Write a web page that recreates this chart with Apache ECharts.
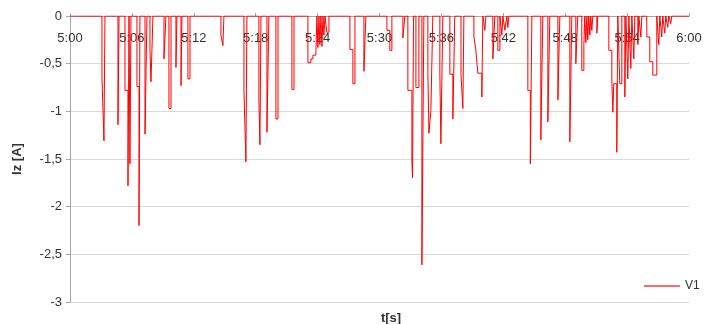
<!DOCTYPE html>
<html>
<head>
<meta charset="utf-8">
<script src="https://cdn.jsdelivr.net/npm/echarts@6/dist/echarts.min.js"></script>
<style>
  html, body { margin: 0; padding: 0; background: #fff; }
  #chart { width: 705px; height: 324px; }
</style>
</head>
<body>
<div id="chart"></div>
<script>
// Sample times in seconds (each entry marks where the current changes level)
const times = [
  300, 303.10, 303.29, 303.39, 304.65, 304.75, 305.33, 305.62, 305.72, 305.81, 305.91,
  306.49, 306.69, 306.78, 307.27, 307.46, 307.75, 307.85, 308.04, 309.11, 309.30,
  309.59, 309.79, 310.27, 310.37, 310.76, 310.85, 311.43, 311.63, 314.63, 314.82, 314.92,
  316.86, 317.05, 317.15, 318.31, 318.41, 318.51, 319.09, 319.28, 319.96, 320.16,
  321.51, 321.71, 323.06, 323.35, 323.55, 323.84, 323.93, 324.03, 324.13, 324.22, 324.32,
  324.42, 324.52, 324.61, 324.71, 324.90, 325.10, 327.13, 327.42, 327.62, 328.49, 328.68,
  330.72, 331.00, 331.20, 332.27, 332.46, 332.75, 333.14, 333.20, 333.30,
  333.53, 333.82, 334.11, 334.30, 334.69, 334.79, 334.98, 335.17, 335.85, 335.95, 336.14,
  336.82, 337.11, 337.30, 337.90, 338.08, 338.18, 339.15, 339.34, 339.53, 339.92, 340.02,
  340.21, 340.31, 340.99, 341.18, 341.47, 341.67, 341.86, 341.96, 342.15, 342.34, 342.44, 342.54,
  344.38, 344.62, 344.77, 345.64, 345.83, 346.32, 346.51, 347.29, 347.48, 348.45, 348.64,
  349.03, 349.22, 349.61, 349.81, 349.90, 350.00, 350.10, 350.19, 350.29, 350.39, 350.48,
  350.58, 350.68, 351.07, 351.16, 352.23, 352.52, 352.62, 352.71, 353.00, 353.10,
  353.29, 353.49, 353.78, 353.88, 354.07, 354.17, 354.36, 354.46, 354.65, 354.75,
  355.04, 355.14, 355.33, 355.43, 355.91, 356.20, 356.49, 356.88,
  357.07, 357.17, 357.36, 357.46, 357.65, 357.75, 357.94, 358.04, 358.23, 358.33, 360
];

// Current Iz [A] from each sample time onwards
const current = [
  0, -0.65, -1.31, 0, -1.14, 0, -0.78, -1.78, 0, -1.55, 0,
  -0.74, -2.2, 0, -1.24, 0, -0.35, -0.69, 0, -0.45, 0,
  -0.97, 0, -0.54, 0, -0.73, 0, -0.66, 0, -0.2, -0.31, 0,
  -0.78, -1.53, 0, -0.87, -1.35, 0, -1.22, 0, -1.08, 0,
  -0.77, 0, -0.49, -0.45, -0.41, -0.37, 0, -0.33, 0, -0.3, 0,
  -0.32, 0, -0.2, 0, -0.17, 0, -0.35, -0.71, 0, -0.58, 0,
  -0.15, -0.36, 0, -0.23, 0, -0.78, -1.51, -1.70, 0,
  -0.75, 0, -2.61, 0, -0.61, -1.23, -0.99, 0, -0.6, -1.34, 0,
  -0.61, -1.08, 0, -0.62, -0.97, 0, -0.22, -0.36, -0.6, -0.85, 0,
  -0.15, 0, -0.45, 0, -0.36, 0, -0.2, 0, -0.15, 0, -0.12, 0,
  -0.78, -1.55, 0, -1.3, 0, -1.11, 0, -0.88, 0, -1.32, 0,
  -0.5, 0, -0.57, -0.3, 0, -0.28, 0, -0.25, 0, -0.2, 0,
  -0.15, 0, -0.18, 0, -0.36, -0.67, -1.01, -0.71, -1.43, 0,
  -0.71, 0, -0.85, 0, -0.66, 0, -0.55, 0, -0.45, 0,
  -0.3, 0, -0.22, 0, -0.22, -0.48, -0.62, 0,
  -0.3, 0, -0.22, 0, -0.18, 0, -0.12, 0, -0.08, 0, 0
];

const seriesName = 'V1';
const xTitle = 't[s]';
const yTitle = 'Iz [A]';

const font = '"Liberation Sans", Arial, sans-serif';
const points = times.map((t, i) => [t, current[i]]);

function fmtTime(v) {
  const m = Math.floor(v / 60);
  const s = Math.round(v - m * 60);
  return m + ':' + (s < 10 ? '0' : '') + s;
}

const chart = echarts.init(document.getElementById('chart'), null, { renderer: 'canvas' });
chart.setOption({
  animation: false,
  backgroundColor: '#ffffff',
  title: {
    text: xTitle,
    left: 386,
    top: 307,
    textAlign: 'center',
    textStyle: { fontFamily: font, fontSize: 13, fontWeight: 'bold', color: '#333' }
  },
  grid: { left: 70, right: 16, top: 16, bottom: 22, containLabel: false },
  legend: {
    data: [seriesName],
    icon: 'rect',
    left: 639,
    top: 275,
    itemWidth: 36,
    itemHeight: 2,
    itemGap: 4,
    itemStyle: { color: '#ff6a6a' },
    textStyle: { fontFamily: font, fontSize: 12, color: '#333' }
  },
  xAxis: {
    type: 'value',
    position: 'top',
    min: 300,
    max: 360,
    interval: 6,
    axisLine: { show: true, onZero: false, lineStyle: { color: '#a6a6a6', width: 1 } },
    axisTick: { show: true, inside: false, length: 3, lineStyle: { color: '#a6a6a6' } },
    axisLabel: {
      inside: true,
      margin: 16,
      fontFamily: font,
      fontSize: 13,
      color: '#333',
      showMinLabel: true,
      showMaxLabel: true,
      formatter: fmtTime
    },
    splitLine: { show: false }
  },
  yAxis: {
    type: 'value',
    min: -3,
    max: 0,
    interval: 0.5,
    name: yTitle,
    nameLocation: 'middle',
    nameGap: 46,
    nameRotate: 90,
    nameTextStyle: { fontFamily: font, fontSize: 13, fontWeight: 'bold', color: '#333' },
    axisLine: { show: true, lineStyle: { color: '#a6a6a6', width: 1 } },
    axisTick: { show: true, length: 4, lineStyle: { color: '#a6a6a6' } },
    axisLabel: {
      margin: 8,
      fontFamily: font,
      fontSize: 13,
      color: '#333',
      formatter: v => String(v).replace('.', ',')
    },
    splitLine: { show: true, lineStyle: { color: '#d9d9d9', width: 1 } }
  },
  series: [{
    name: seriesName,
    type: 'line',
    step: 'end',
    data: points,
    symbol: 'none',
    showSymbol: false,
    lineStyle: { color: '#ff0000', width: 1 },
    itemStyle: { color: '#ff0000' }
  }]
});
</script>
</body>
</html>
